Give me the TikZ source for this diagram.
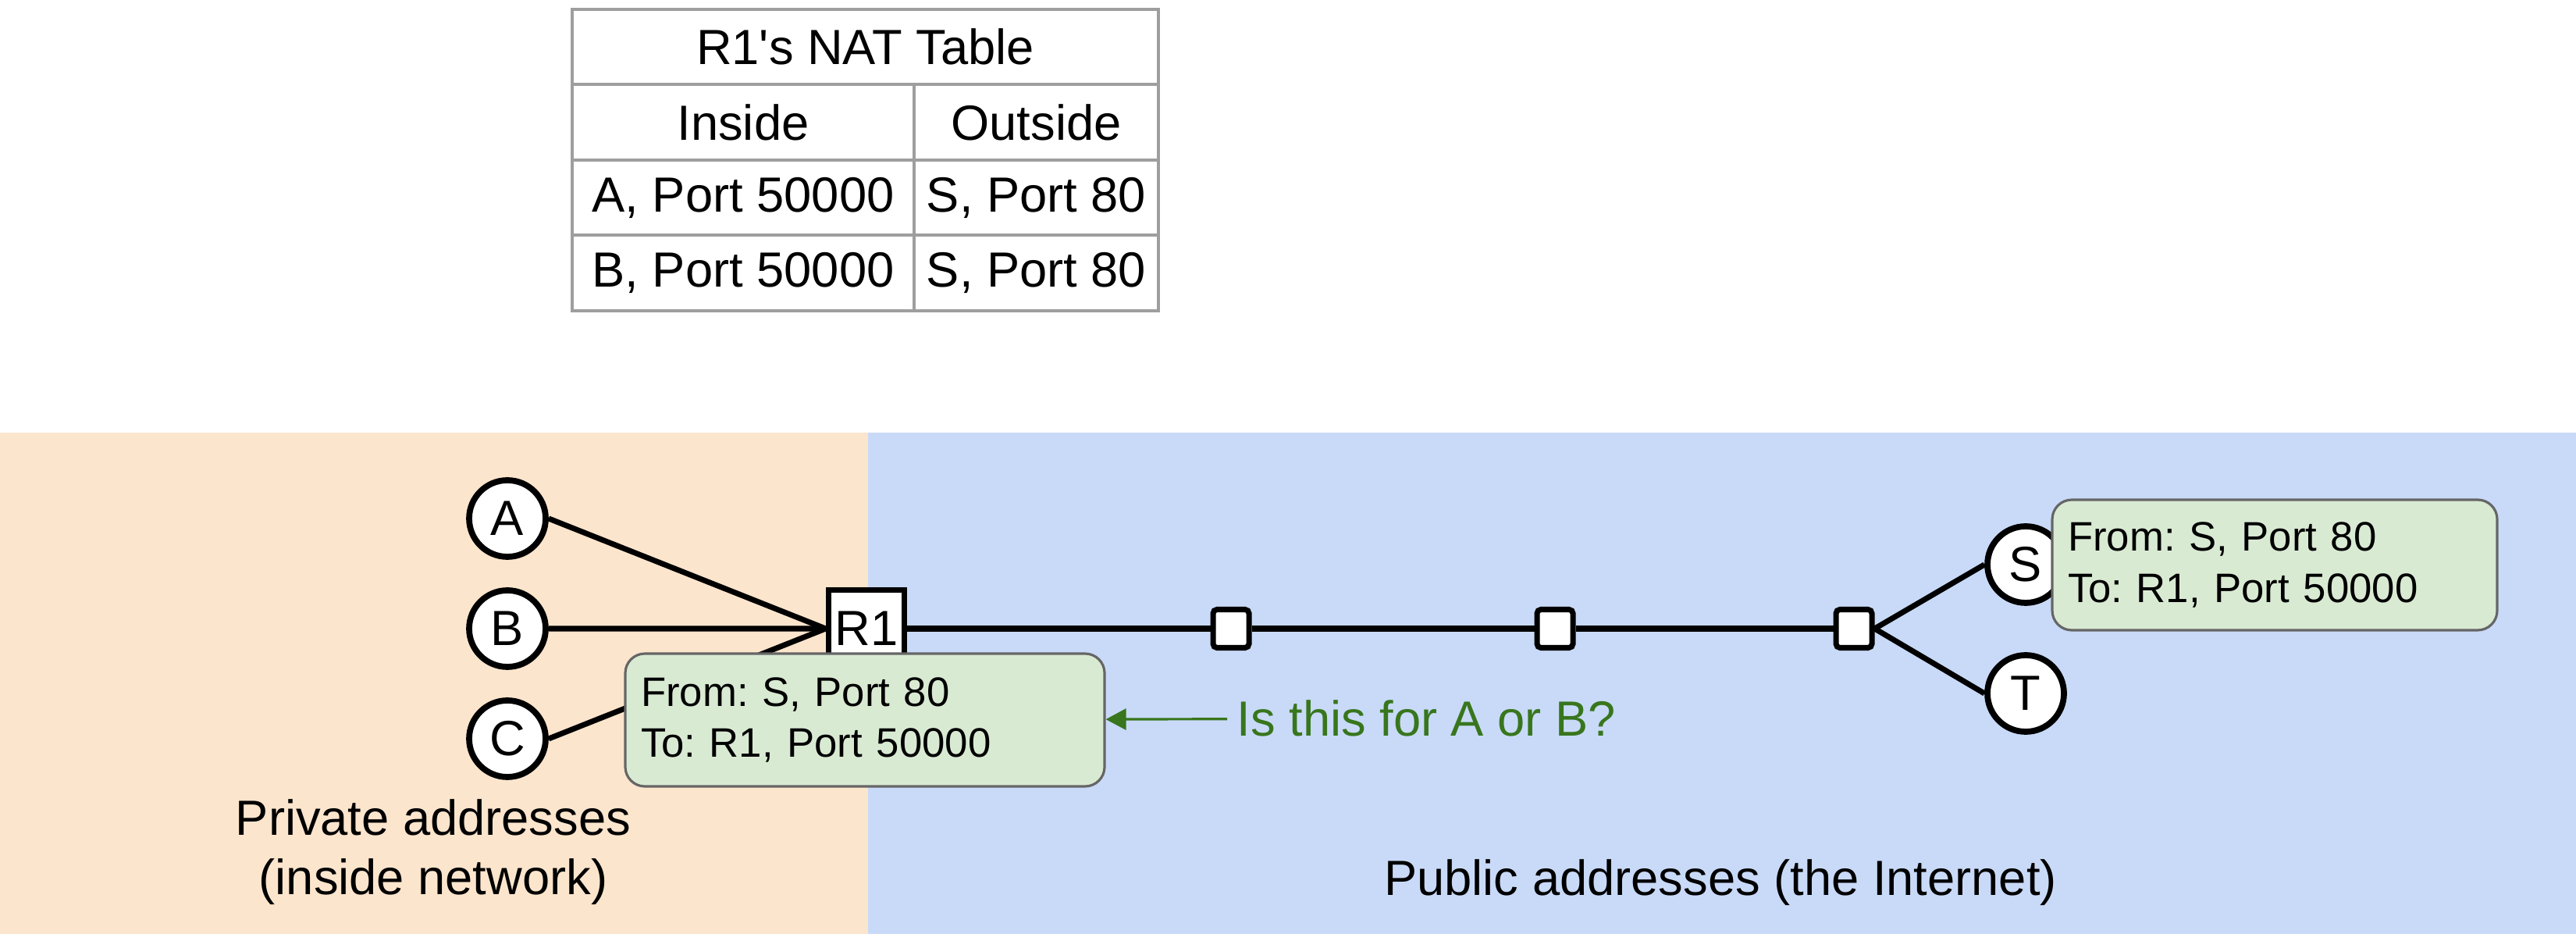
\documentclass[tikz,border=0pt]{standalone}
\usepackage{xcolor}
\usepackage{fontspec}
\setmainfont{Liberation Sans}
\usepackage{tikz}
\usetikzlibrary{positioning, arrows.meta}
\definecolor{insidebg}{HTML}{FCE5CD}
\definecolor{outsidebg}{HTML}{C9DAF8}
\definecolor{pktfill}{HTML}{D9EAD3}
\definecolor{pktline}{HTML}{666666}
\definecolor{qgreen}{HTML}{38761D}
\definecolor{tblline}{HTML}{9E9E9E}
\frenchspacing
\tikzstyle{cell} = [rectangle, draw=tblline, line width=1.1pt, minimum height=0.965cm, inner sep=0pt, outer sep=0pt]
\tikzstyle{host} = [circle, draw=black, fill=white, line width=2.2pt, minimum size=0.98cm, inner sep=0pt]
\tikzstyle{router} = [rectangle, draw=black, fill=white, line width=2.2pt, minimum width=0.97cm, minimum height=0.99cm, inner sep=0pt]
\tikzstyle{hop} = [rectangle, rounded corners=0.05cm, draw=black, fill=white, line width=2pt, minimum width=0.46cm, minimum height=0.49cm, inner sep=0pt]
\tikzstyle{packet} = [rectangle, rounded corners=0.25cm, draw=pktline, fill=pktfill, line width=0.9pt, align=left, inner xsep=0.2cm, font=\fontsize{15pt}{18.7pt}\selectfont]
\tikzstyle{link} = [line width=2pt]
\tikzstyle{arrow} = [line width=0.9pt, draw=qgreen, -{Triangle[length=0.26cm,width=0.27cm]}]

\begin{document}
\begin{tikzpicture}[node distance=1.41cm, font=\fontsize{18pt}{21.6pt}\selectfont]
\useasboundingbox (0,0) rectangle (33,-12.05);
\fill[insidebg] (0,-5.54) rectangle (11.12,-11.96);
\fill[outsidebg] (11.12,-5.54) rectangle (33,-11.96);

\node (title) [cell, minimum width=7.51cm] at (11.085,-0.60) {R1\textquotesingle s NAT Table};
\node (inside) [cell, minimum width=4.38cm, below=0pt of title.south west, anchor=north west] {Inside};
\node (outside) [cell, minimum width=3.13cm, right=0pt of inside] {Outside};
\node (ain) [cell, minimum width=4.38cm, below=0pt of inside] {A, Port 50000};
\node (aout) [cell, minimum width=3.13cm, below=0pt of outside] {S, Port 80};
\node (bin) [cell, minimum width=4.38cm, below=0pt of ain] {B, Port 50000};
\node (bout) [cell, minimum width=3.13cm, below=0pt of aout] {S, Port 80};

\node (a) [host] at (6.50,-6.64) {A};
\node (b) [host, below of=a] {B};
\node (c) [host, below of=b] {C};
\node (r1) [router] at (11.10,-8.05) {R1};
\node (hop1) [hop] at (15.77,-8.05) {};
\node (hop2) [hop] at (19.92,-8.05) {};
\node (hop3) [hop] at (23.75,-8.05) {};
\node (s) [host] at (25.95,-7.23) {S};
\node (t) [host] at (25.95,-8.88) {T};

\draw[link] (a.east) -- (r1.west);
\draw[link] (b.east) -- (r1.west);
\draw[link] (c.east) -- (r1.west);
\draw[link] (r1) -- (hop1) -- (hop2) -- (hop3);
\draw[link] (hop3.east) -- (s.west);
\draw[link] (hop3.east) -- (t.west);

\node (pktin) [packet, text width=5.74cm, minimum height=1.70cm] at (11.08,-9.22) {From: S, Port 80\\To: R1, Port 50000};
\node (pktout) [packet, text width=5.30cm, minimum height=1.67cm] at (29.14,-7.235) {From: S, Port 80\\To: R1, Port 50000};
\node (question) [text=qgreen, anchor=west, inner sep=0.12cm] at (15.72,-9.20) {Is this for A or B?};
\draw[arrow] (question) -- (pktin);

\node (private) [align=center] at (5.55,-10.91) {Private addresses\\(inside network)};
\node (public) at (22.04,-11.30) {Public addresses (the Internet)};
\end{tikzpicture}
\end{document}
